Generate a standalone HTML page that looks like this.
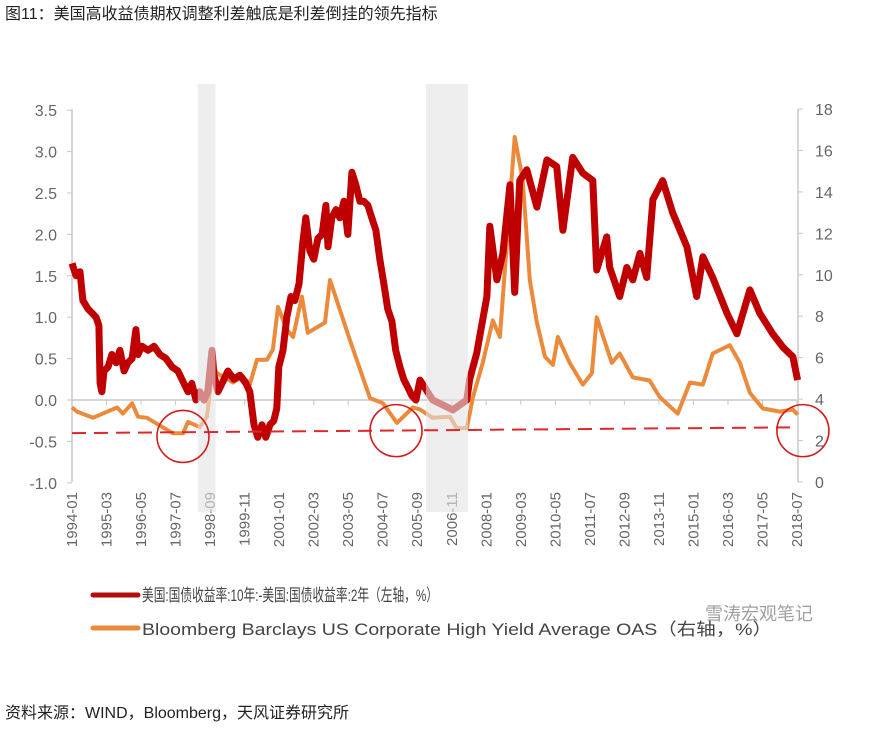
<!DOCTYPE html>
<html><head><meta charset="utf-8"><style>
html,body{margin:0;padding:0;background:#fff;width:875px;height:735px;overflow:hidden}
svg{display:block;font-family:"Liberation Sans","Noto Sans CJK SC",sans-serif}
</style></head><body>
<svg id="chart" width="875" height="735" viewBox="0 0 875 735">
<text x="5" y="19" font-size="16" fill="#222">图11：美国高收益债期权调整利差触底是利差倒挂的领先指标</text>
<g id="plot"></g>
<g>
<line x1="93" y1="595" x2="138" y2="595" stroke="#b30c0c" stroke-width="5" stroke-linecap="round"/>
<text x="142" y="601" font-size="17" fill="#444" textLength="296" lengthAdjust="spacingAndGlyphs">美国:国债收益率:10年:-美国:国债收益率:2年（左轴，%）</text>
<line x1="93" y1="628" x2="138" y2="628" stroke="#ec8a3c" stroke-width="5" stroke-linecap="round"/>
<text x="142" y="635" font-size="17" fill="#444" textLength="630" lengthAdjust="spacingAndGlyphs">Bloomberg Barclays US Corporate High Yield Average OAS（右轴，%）</text>
</g>
<text x="705" y="620" font-size="18" fill="#888" opacity="0.8">雪涛宏观笔记</text>
<text x="5" y="718" font-size="16" fill="#222">资料来源：WIND，Bloomberg，天风证券研究所</text>
</svg>
<script>
const spreadYears=[1994.00,1994.14,1994.27,1994.37,1994.54,1994.68,1994.81,1994.91,1994.95,1995.01,1995.08,1995.22,1995.35,1995.49,1995.62,1995.76,1995.89,1996.03,1996.16,1996.23,1996.36,1996.57,1996.77,1996.97,1997.18,1997.38,1997.58,1997.78,1997.92,1998.05,1998.19,1998.32,1998.46,1998.59,1998.73,1998.80,1998.93,1999.07,1999.27,1999.47,1999.67,1999.88,2000.01,2000.15,2000.28,2000.42,2000.55,2000.69,2000.82,2000.92,2000.99,2001.13,2001.26,2001.40,2001.53,2001.67,2001.80,2001.90,2002.04,2002.17,2002.31,2002.45,2002.58,2002.65,2002.78,2002.92,2003.05,2003.19,2003.32,2003.46,2003.59,2003.73,2003.86,2004.00,2004.13,2004.27,2004.40,2004.54,2004.67,2004.81,2004.94,2005.08,2005.21,2005.35,2005.49,2005.62,2005.76,2006.19,2006.87,2007.34,2007.44,2007.68,2008.02,2008.12,2008.36,2008.56,2008.80,2008.96,2009.13,2009.37,2009.71,2010.05,2010.38,2010.59,2010.92,2011.26,2011.60,2011.73,2012.07,2012.17,2012.51,2012.75,2012.95,2013.19,2013.42,2013.63,2013.96,2014.30,2014.78,2015.11,2015.32,2015.65,2016.13,2016.47,2016.91,2017.24,2017.68,2018.02,2018.36,2018.52];
const spreadValues=[1.65,1.5,1.55,1.2,1.1,1.05,1.0,0.9,0.2,0.1,0.35,0.4,0.55,0.45,0.6,0.35,0.45,0.5,0.85,0.55,0.65,0.6,0.65,0.55,0.5,0.4,0.35,0.2,0.1,0.2,0.0,0.1,0.0,0.1,0.6,0.3,0.1,0.2,0.35,0.25,0.3,0.2,0.1,-0.3,-0.45,-0.3,-0.45,-0.3,-0.25,-0.1,0.4,0.6,1.0,1.25,1.2,1.4,1.9,2.2,1.8,1.7,1.95,2.0,2.35,1.85,2.2,2.3,2.2,2.4,2.0,2.75,2.6,2.4,2.4,2.35,2.2,2.05,1.7,1.4,1.1,0.95,0.6,0.4,0.25,0.15,0.05,0.0,0.24,0.0,-0.12,0.0,0.25,0.57,1.25,2.1,1.45,1.77,2.6,1.3,2.65,2.78,2.33,2.9,2.82,2.05,2.93,2.74,2.65,1.57,1.97,1.6,1.25,1.6,1.45,1.77,1.48,2.42,2.65,2.26,1.85,1.25,1.73,1.48,1.05,0.8,1.33,1.05,0.8,0.64,0.52,0.24];
const oasYears=[1994.00,1994.17,1994.71,1995.52,1995.72,1996.03,1996.23,1996.53,1997.41,1997.75,1997.92,1998.32,1998.56,1998.76,1998.90,1999.44,1999.78,2000.01,2000.25,2000.59,2000.79,2000.96,2001.26,2001.47,2001.77,2001.97,2002.55,2002.72,2003.39,2004.07,2004.51,2004.98,2005.52,2005.76,2006.19,2006.77,2007.00,2007.34,2007.55,2007.88,2008.22,2008.46,2008.96,2009.23,2009.47,2009.71,2009.98,2010.25,2010.42,2010.82,2011.26,2011.57,2011.73,2012.24,2012.51,2012.95,2013.52,2013.86,2014.47,2014.88,2015.32,2015.65,2016.23,2016.57,2016.91,2017.34,2017.92,2018.36,2018.52];
const oasValues=[3.6,3.4,3.1,3.6,3.3,3.8,3.15,3.1,2.35,2.35,2.9,2.65,3.15,5.55,5.25,4.8,5.1,4.7,5.9,5.9,6.4,8.45,7.35,7.0,8.95,7.2,7.7,9.75,6.85,4.05,3.8,2.85,3.6,3.5,3.1,3.15,2.6,2.6,4.1,5.75,7.8,7.0,16.65,14.6,9.75,7.7,6.05,5.65,7.0,5.75,4.7,5.25,7.95,5.75,6.2,5.05,4.9,4.1,3.3,4.8,4.7,6.2,6.6,5.75,4.3,3.55,3.4,3.5,3.25];
const leftTicks=[3.5,3.0,2.5,2.0,1.5,1.0,0.5,0.0,-0.5,-1.0];
const rightTicks=[18,16,14,12,10,8,6,4,2,0];
const xTickLabels=["1994-01","1995-03","1996-05","1997-07","1998-09","1999-11","2001-01","2002-03","2003-05","2004-07","2005-09","2006-11","2008-01","2009-03","2010-05","2011-07","2012-09","2013-11","2015-01","2016-03","2017-05","2018-07"];
const recessions=[[1998.25,1998.85],[2005.96,2007.38]];
const thresholdLine=[[1994.0,-0.4],[2018.5,-0.33]];
const circleMarks=[[1997.75,-0.44],[2004.95,-0.37],[2018.7,-0.37]];

const NS="http://www.w3.org/2000/svg";
const X0=72,X1=797,T0=1994.0,T1=2018.5;
const x=t=>X0+(t-T0)/(T1-T0)*(X1-X0);
const yL=v=>400-v*82.8;
const yR=v=>482-v*20.72;
const plot=document.getElementById('plot');
function mk(tag,attrs){const e=document.createElementNS(NS,tag);for(const k in attrs)e.setAttribute(k,attrs[k]);plot.appendChild(e);return e;}
const dateToYear=s=>{const [a,b]=s.split('-');return +a+(+b-1)/12;};

let e=mk('line',{x1:X0,y1:109,x2:X0,y2:482,stroke:'#c8c8c8','stroke-width':1.5});


e=mk('line',{x1:X1+1,y1:109,x2:X1+1,y2:482,stroke:'#c8c8c8','stroke-width':1.5});


e=mk('line',{x1:X0,y1:yL(0),x2:X1,y2:yL(0),stroke:'#c8c8c8','stroke-width':1.5});


leftTicks.forEach(v=>{
  mk('line',{x1:X0-5,y1:yL(v),x2:X0,y2:yL(v),stroke:'#c8c8c8'});
  const t=mk('text',{x:57,y:yL(v)+6,'font-size':16,fill:'#666','text-anchor':'end'});
  t.textContent=v.toFixed(1);
  
  
});
rightTicks.forEach(v=>{
  mk('line',{x1:X1+1,y1:yR(v),x2:X1+6,y2:yR(v),stroke:'#c8c8c8'});
  const t=mk('text',{x:815,y:yR(v)+6,'font-size':16,fill:'#666'});
  t.textContent=v;
  
  
});
xTickLabels.forEach(s=>{
  const xx=x(dateToYear(s));
  mk('line',{x1:xx,y1:yL(0),x2:xx,y2:yL(0)+5,stroke:'#c8c8c8'});
  const t=mk('text',{x:0,y:0,'font-size':15,fill:'#666','text-anchor':'end',transform:`translate(${xx+5},492) rotate(-90)`});
  t.textContent=s;
  
  
});
const pts=(ys,vs,fy)=>ys.map((t,i)=>x(t).toFixed(1)+','+fy(vs[i]).toFixed(1)).join(' ');
e=mk('polyline',{points:pts(oasYears,oasValues,yR),fill:'none',stroke:'#ec8a3c','stroke-width':4,'stroke-linejoin':'round'});


e=mk('polyline',{points:pts(spreadYears,spreadValues,yL),fill:'none',stroke:'#c00000','stroke-width':7,'stroke-linejoin':'round'});


recessions.forEach(r=>{
  const s=mk('rect',{x:x(r[0]),y:84,width:x(r[1])-x(r[0]),height:428,fill:'#e2e2e2',opacity:0.6});
  
  
});
e=mk('line',{x1:x(thresholdLine[0][0]),y1:yL(thresholdLine[0][1]),x2:x(thresholdLine[1][0]),y2:yL(thresholdLine[1][1]),stroke:'#e0282a','stroke-width':2,'stroke-dasharray':'14,8'});


circleMarks.forEach(c=>{
  const k=mk('circle',{cx:x(c[0]),cy:yL(c[1]),r:26,fill:'none',stroke:'#d41a1a','stroke-width':1.6});
  
  
});
</script>
</body></html>
